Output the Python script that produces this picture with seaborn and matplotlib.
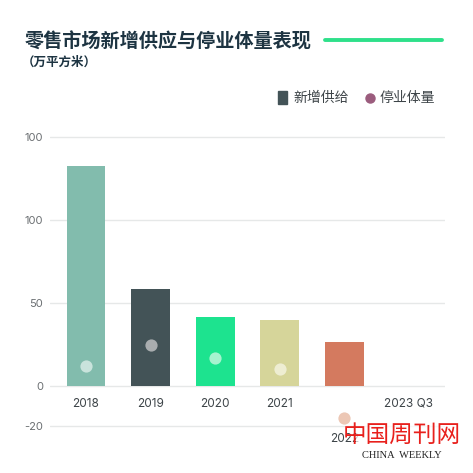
import matplotlib
matplotlib.use("Agg")
import matplotlib.pyplot as plt
import seaborn as sns
import pandas as pd
import numpy as np
from matplotlib.lines import Line2D

categories = ["2018", "2019", "2020", "2021", "2022", "2023 Q3"]
new_supply = [132.5, 58.4, 41.7, 40.1, 26.3, np.nan]
closure = [12.2, 25.0, 16.7, 10.2, -19.0, np.nan]
ytick_values = [150, 100, 50, 0, -24]
ytick_labels = ["100", "100", "50", "0", "-20"]

bar_colors = ["#82bcad", "#435357", "#1de38f", "#d6d59a", "#d47a5f", "#d47a5f"]
dot_colors = ["#c9e3dc", "#a9adaf", "#a6f3cf", "#eeedd2", "#ecc7b5", "#ecc7b5"]

sns.set_theme(style="white")
plt.rcParams["font.family"] = ["Inter", "Noto Sans CJK SC", "DejaVu Sans"]

df = pd.DataFrame({"year": categories, "supply": new_supply, "closure": closure})

fig = plt.figure(figsize=(4.73, 4.73), dpi=100)
ax = fig.add_axes([0.1057, 0.0926, 0.835, 0.635])

sns.barplot(data=df, x="year", y="supply", hue="year", palette=bar_colors,
            width=0.6, dodge=False, legend=False, ax=ax, saturation=1, linewidth=0)
sns.stripplot(data=df, x="year", y="closure", hue="year", palette=dot_colors,
              jitter=False, size=8.8, linewidth=0, legend=False, ax=ax, zorder=5)

ax.set_xlim(-0.557, 5.557)
ax.set_ylim(-26, 155)
ax.set_yticks(ytick_values)
ax.set_yticklabels(ytick_labels)
ax.set_xlabel("")
ax.set_ylabel("")
for s in ax.spines.values():
    s.set_visible(False)
ax.grid(axis="y", color="#e6e8e8", linewidth=1)
ax.set_axisbelow(True)
ax.tick_params(axis="y", length=0, pad=5, labelsize=8, labelcolor="#6b6f72")
ax.tick_params(axis="x", length=0, pad=-22.5, labelsize=8.5, labelcolor="#3d4448")
ax.xaxis.get_major_ticks()[4].set_pad(3)

# Title & subtitle
fig.text(0.053, 0.912, "零售市场新增供应与停业体量表现", fontsize=13.8, fontweight="bold",
         color="#1d3442", va="center", ha="left", family=["Noto Sans CJK SC"])
fig.add_artist(Line2D([325/473, 442/473], [1-40/473, 1-40/473], color="#2ee08a", lw=2.8,
                      transform=fig.transFigure))
fig.text(0.047, 1-62/473, "（万平方米）", fontsize=9, fontweight="bold", color="#1d3442",
         va="center", ha="left", family=["Noto Sans CJK SC"])

# Legend
fig.add_artist(plt.Rectangle((278/473, 1-104/473), 9/473, 13/473,
               color="#435357", transform=fig.transFigure))
fig.text(293/473, 1-98/473, "新增供给", fontsize=10, color="#3d4448", va="center",
         family=["Noto Sans CJK SC"])
fig.add_artist(Line2D([370/473], [1-98/473], marker="o", markersize=6.5, color="#9b5c7d",
                      linestyle="none", transform=fig.transFigure))
fig.text(380/473, 1-98/473, "停业体量", fontsize=10, color="#3d4448", va="center",
         family=["Noto Sans CJK SC"])

# Watermark
fig.add_artist(plt.Rectangle((356/473, 1-465/473), 106/473, 44/473, color="white",
               alpha=0.7, lw=0, transform=fig.transFigure, zorder=9))
fig.text(402/473, 1-435/473, "中国周刊网", fontsize=17, color="#e8201c", va="center",
         ha="center", family=["Noto Sans CJK SC"], zorder=10)
fig.text(402/473, 1-455/473, "CHINA  WEEKLY", fontsize=7.5, color="#222222", va="center",
         ha="center", family=["Liberation Serif"], zorder=10)

fig.savefig("out.png", dpi=100)
